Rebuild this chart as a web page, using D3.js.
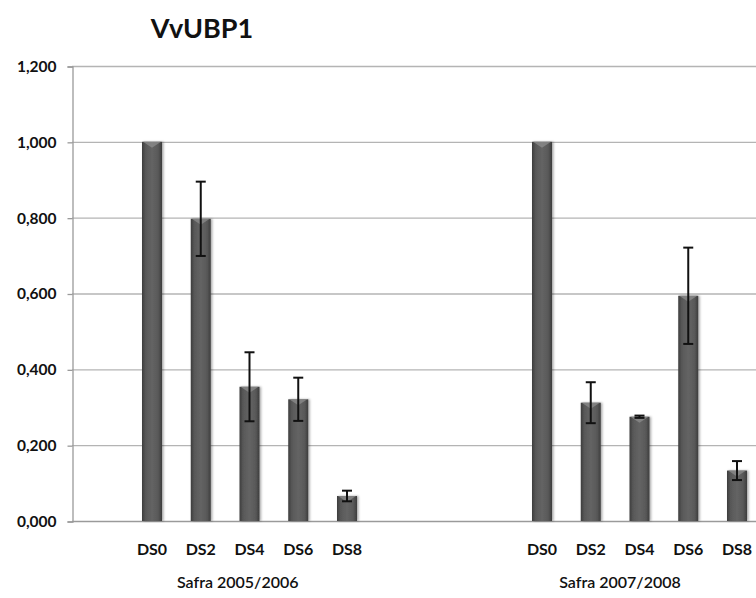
<!DOCTYPE html>
<html>
  <head>
   <meta charset="utf-8" />
   <title>VvUBP1</title>
   <style>
     body { margin: 0; background: white; }
     text { font-family: Lato, "Open Sans", sans-serif; font-weight: bold; fill: #111; }
   </style>
  </head>
  <body>
<svg id="chart" width=756 height=598></svg>
  <script src="https://d3js.org/d3.v7.min.js"></script>
  <script>

    // two harvests, five stages each
    var stages = ["DS0", "DS2", "DS4", "DS6", "DS8"];
    var groups = ["Safra 2005/2006", "Safra 2007/2008"];
    var values2005 = [1.000, 0.797, 0.354, 0.321, 0.066];
    var errors2005 = [0, 0.098, 0.091, 0.057, 0.014];
    var values2007 = [1.000, 0.312, 0.275, 0.594, 0.133];
    var errors2007 = [0, 0.054, 0.003, 0.127, 0.025];
    var yTicks = [0, 0.2, 0.4, 0.6, 0.8, 1.0, 1.2];
    // slot index where each group starts, and where its label sits
    var groupStart = [0, 8];
    var groupLabelAt = [1.76, 9.6];

    var data = [];
    stages.forEach(function(s, i){
      data.push({stage: s, slot: groupStart[0] + i, value: values2005[i], err: errors2005[i]});
    });
    stages.forEach(function(s, i){
      data.push({stage: s, slot: groupStart[1] + i, value: values2007[i], err: errors2007[i]});
    });

    var svg = d3.select("#chart");
    var plotLeft = 72, plotRight = 756, plotTop = 66, plotBottom = 521;

    var x = d3.scaleLinear().domain([0, 12]).range([152, 737]);
    var y = d3.scaleLinear().domain([0, 1.2]).range([plotBottom, plotTop]);
    var fmt = function(v){ return d3.format(".3f")(v).replace(".", ","); };

    // gradients for the bars
    var defs = svg.append("defs");
    var g = defs.append("linearGradient").attr("id", "barGrad")
      .attr("x1", "0%").attr("x2", "100%").attr("y1", "0%").attr("y2", "0%");
    g.append("stop").attr("offset", "0%").attr("stop-color", "#3c3c3c");
    g.append("stop").attr("offset", "18%").attr("stop-color", "#585858");
    g.append("stop").attr("offset", "50%").attr("stop-color", "#646464");
    g.append("stop").attr("offset", "82%").attr("stop-color", "#585858");
    g.append("stop").attr("offset", "100%").attr("stop-color", "#3c3c3c");
    var f = defs.append("filter").attr("id", "shadow").attr("x", "-30%").attr("width", "160%");
    f.append("feDropShadow").attr("dx", 1.5).attr("dy", 0).attr("stdDeviation", 1.2)
      .attr("flood-color", "#000").attr("flood-opacity", 0.35);

    // gridlines
    svg.append("g").selectAll("line").data(yTicks).enter().append("line")
      .attr("x1", plotLeft).attr("x2", plotRight)
      .attr("y1", function(d){ return y(d) + 0.5; }).attr("y2", function(d){ return y(d) + 0.5; })
      .attr("stroke", function(d){ return d === 0 ? "#9a9a9a" : "#b4b4b4"; })
      .attr("stroke-width", 1.3);

    // y axis
    var yAxis = d3.axisLeft(y).tickValues(yTicks).tickSize(5).tickFormat(fmt);
    var ya = svg.append("g").attr("transform", "translate(" + (plotLeft + 0.5) + ",0.5)").call(yAxis);
    ya.select(".domain").attr("stroke", "#9a9a9a").attr("stroke-width", 1.3);
    ya.selectAll(".tick line").attr("stroke", "#9a9a9a").attr("stroke-width", 1.3);
    ya.selectAll(".tick text")
      .attr("x", -16).attr("font-size", 15.5)
      .style("font-family", "Lato, sans-serif").style("font-weight", "bold").attr("fill", "#111");

    var bw = 20;

    // bars
    var bars = svg.append("g").selectAll("g").data(data).enter().append("g")
      .attr("transform", function(d){ return "translate(" + (x(d.slot) - bw / 2) + ",0)"; });
    bars.append("rect")
      .attr("x", 0).attr("width", bw)
      .attr("y", function(d){ return y(d.value); })
      .attr("height", function(d){ return plotBottom - y(d.value); })
      .attr("fill", "url(#barGrad)")
      .attr("filter", "url(#shadow)");
    // bevel at the top of each bar
    bars.append("path")
      .attr("d", function(d){
        var t = y(d.value);
        return "M1," + t + " L" + (bw - 1) + "," + t + " L" + (bw / 2) + "," + (t + 6) + " Z";
      })
      .attr("fill", "#8a8a8a").attr("opacity", 0.8);

    // error bars
    var errs = svg.append("g").selectAll("g").data(data.filter(function(d){ return d.err > 0; }))
      .enter().append("g").attr("stroke", "#111").attr("stroke-width", 2);
    errs.append("line")
      .attr("x1", function(d){ return x(d.slot); }).attr("x2", function(d){ return x(d.slot); })
      .attr("y1", function(d){ return y(d.value + d.err); })
      .attr("y2", function(d){ return y(d.value - d.err); });
    errs.append("line")
      .attr("x1", function(d){ return x(d.slot) - 5; }).attr("x2", function(d){ return x(d.slot) + 5; })
      .attr("y1", function(d){ return y(d.value + d.err); }).attr("y2", function(d){ return y(d.value + d.err); });
    errs.append("line")
      .attr("x1", function(d){ return x(d.slot) - 5; }).attr("x2", function(d){ return x(d.slot) + 5; })
      .attr("y1", function(d){ return y(d.value - d.err); }).attr("y2", function(d){ return y(d.value - d.err); });

    // category labels
    svg.append("g").selectAll("text").data(data).enter().append("text")
      .attr("x", function(d){ return x(d.slot); }).attr("y", 555)
      .attr("text-anchor", "middle").attr("font-size", 16)
      .text(function(d){ return d.stage; });

    svg.append("g").selectAll("text").data(groups).enter().append("text")
      .attr("x", function(d, i){ return x(groupLabelAt[i]); }).attr("y", 588)
      .attr("text-anchor", "middle").attr("font-size", 16)
      .style("font-weight", "600")
      .text(function(d){ return d; });

    svg.append("text").attr("x", 202).attr("y", 38)
      .attr("text-anchor", "middle").attr("font-size", 27)
      .text("VvUBP1");

  </script>
  </body>
</html>
